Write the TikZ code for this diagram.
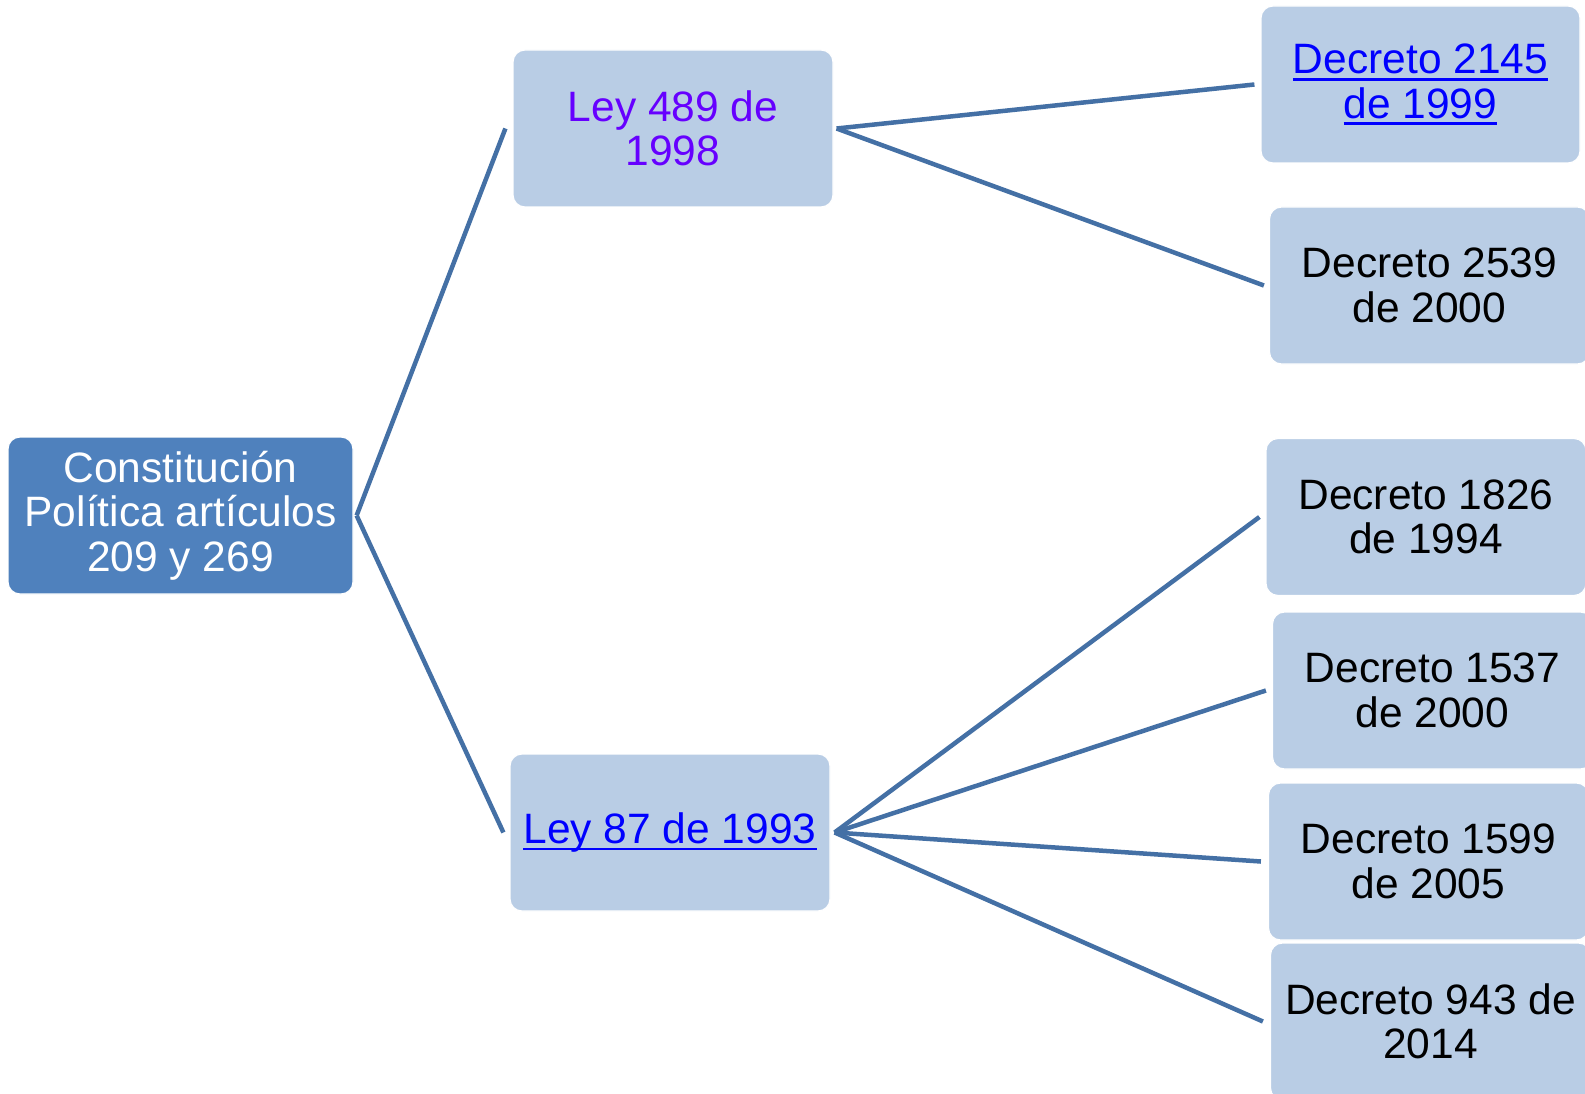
\documentclass[tikz,border=0pt]{standalone}
\usepackage{fontspec}
\setmainfont{Liberation Sans}
\definecolor{rootfill}{RGB}{79,129,189}
\definecolor{childfill}{RGB}{185,205,229}
\definecolor{connclr}{RGB}{68,112,165}
\definecolor{lnkblue}{RGB}{0,0,255}
\definecolor{visited}{RGB}{102,0,255}
\newsavebox\ulbox
\newcommand\lnkul[1]{\sbox\ulbox{#1}\rlap{\rule[-7pt]{\wd\ulbox}{2.8pt}}\usebox\ulbox}
\tikzset{
  basebox/.style={rounded corners=12pt, draw=white, line width=1.2pt, inner sep=0pt,
    minimum height=157pt, align=center, font=\fontsize{42.5}{44.5}\selectfont},
  rootbox/.style={basebox, fill=rootfill, text=white, minimum width=345pt},
  childbox/.style={basebox, fill=childfill, text=black, minimum width=320pt},
  conn/.style={draw=connclr, line width=4.5pt}
}
\begin{document}
\begin{tikzpicture}[x=1pt,y=-1pt]
\fill[white] (0,0) rectangle (1585,1094);
\useasboundingbox (0,0) rectangle (1585,1094);
\node[rootbox] (root) at (180.5,515.5) {Constitución\\Política artículos\\209 y 269\rule[-5pt]{0pt}{5pt}};
\node[childbox, text=visited] (ley489) at (673,128.5) {Ley 489 de\\1998};
\node[childbox, text=lnkblue] (ley87) at (670,832.5) {\lnkul{Ley 87 de 1993}};
\node[childbox, text=lnkblue, minimum width=319pt] (d2145) at (1420.5,84.5) {\lnkul{Decreto 2145}\\\lnkul{de 1999}};
\node[childbox] (d2539) at (1429.5,285.5) {Decreto 2539\\de 2000};
\node[childbox] (d1826) at (1426,517) {Decreto 1826\\de 1994};
\node[childbox] (d1537) at (1432.5,690.5) {Decreto 1537\\de 2000};
\node[childbox] (d1599) at (1428.5,861.5) {Decreto 1599\\de 2005};
\node[childbox] (d943) at (1430.5,1021.5) {Decreto 943 de\\2014};
\draw[conn] ([xshift=3pt]root.east) -- ([xshift=-7pt]ley489.west);
\draw[conn] ([xshift=3pt]root.east) -- ([xshift=-6pt]ley87.west);
\draw[conn] ([xshift=3pt]ley489.east) -- ([xshift=-6pt]d2145.west);
\draw[conn] ([xshift=3pt]ley489.east) -- ([xshift=-5pt]d2539.west);
\draw[conn] ([xshift=4pt]ley87.east) -- ([xshift=-6pt]d1826.west);
\draw[conn] ([xshift=4pt]ley87.east) -- ([xshift=-6pt]d1537.west);
\draw[conn] ([xshift=4pt]ley87.east) -- ([xshift=-7pt]d1599.west);
\draw[conn] ([xshift=4pt]ley87.east) -- ([xshift=-7pt]d943.west);
\end{tikzpicture}
\end{document}
